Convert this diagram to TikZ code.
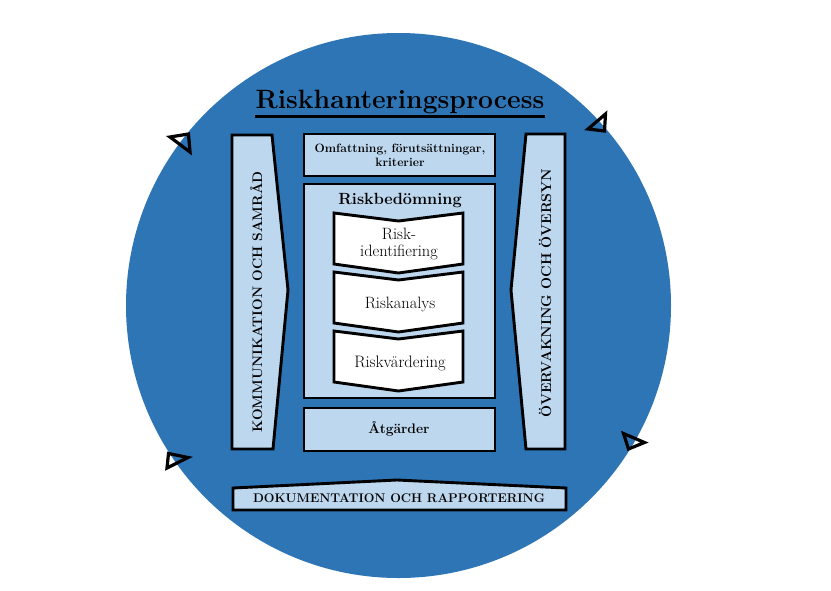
\documentclass[tikz,border=0pt]{standalone}
\usepackage{fontspec}
\definecolor{circblue}{HTML}{2E75B6}
\definecolor{lightblue}{HTML}{BDD7EE}
\tikzset{
  box/.style={draw=black, line width=2.9pt, fill=lightblue, line join=miter},
  chevbox/.style={draw=black, line width=2.9pt, fill=white, line join=miter},
  tri/.style={draw=black, line width=3.2pt, line join=miter},
  lbl/.style={inner sep=0pt, align=center, text=black}
}
\begin{document}
\begin{tikzpicture}[x=1pt,y=-1pt]
\useasboundingbox (0,0) rectangle (831,590);
% background circle
\fill[circblue] (398.5,305.5) circle (272.5);

% title
\node[lbl, anchor=base, font=\fontsize{26.5}{30}\selectfont\bfseries] (title) at (400,108) {Riskhanteringsprocess};
\draw[line width=3pt] ([yshift=-8pt]title.base west) -- ([yshift=-8pt]title.base east);

% left column
\draw[box] (232,135) -- (272,135) -- (288,290) -- (273,449) -- (232,449) -- cycle;
\node[lbl, rotate=90, anchor=base, font=\fontsize{13.8}{16}\selectfont\bfseries] (komm) at (262,302) {KOMMUNIKATION OCH SAMRÅD};

% right column
\draw[box] (526,134) -- (565,134) -- (565,449) -- (526,449) -- (511,290) -- cycle;
\node[lbl, rotate=90, anchor=base, font=\fontsize{14.2}{16}\selectfont\bfseries] (overv) at (551,293) {ÖVERVAKNING OCH ÖVERSYN};

% top box
\draw[box] (304,134) rectangle (495,176);
\node[lbl, font=\fontsize{12.1}{13.5}\selectfont\bfseries] (omf) at (400,155.4) {Omfattning, förutsättningar,\\kriterier};

% risk assessment box
\draw[box] (304,184) rectangle (495,398);
\node[lbl, anchor=base, font=\fontsize{16.2}{18}\selectfont\bfseries] (rb) at (400,204) {Riskbedömning};

% chevrons
\draw[chevbox] (334,213) -- (398.5,221) -- (463,213) -- (463,264) -- (398.5,273) -- (334,264) -- cycle;
\node[lbl, font=\fontsize{16.4}{17}\selectfont] (rid) at (399,243.7) {Risk-\\identifiering};

\draw[chevbox] (334,272) -- (398.5,280) -- (463,272) -- (463,323) -- (398.5,332) -- (334,323) -- cycle;
\node[lbl, anchor=base, font=\fontsize{16.4}{18}\selectfont] (ra) at (400,308) {Riskanalys};

\draw[chevbox] (334,331) -- (398.5,339) -- (463,331) -- (463,382) -- (398.5,391) -- (334,382) -- cycle;
\node[lbl, anchor=base, font=\fontsize{16.6}{18}\selectfont] (rv) at (400,367.5) {Riskvärdering};

% actions box
\draw[box] (304,408) rectangle (495,451);
\node[lbl, font=\fontsize{13.8}{16}\selectfont\bfseries] (atg) at (399,429) {Åtgärder};

% bottom documentation bar
\draw[box] (233,488) -- (397,480) -- (566,488) -- (566,510) -- (233,510) -- cycle;
\node[lbl, anchor=base, font=\fontsize{12.6}{14}\selectfont\bfseries] (dok) at (399,502) {DOKUMENTATION OCH RAPPORTERING};

% open arrowheads around the circle
\draw[tri] (170,137) -- (188.5,134) -- (190,152) -- cycle;
\draw[tri] (588,129) -- (605.5,114) -- (604.5,131) -- cycle;
\draw[tri] (623.5,433.5) -- (644.5,442.5) -- (628.5,449) -- cycle;
\draw[tri] (168.5,453.5) -- (188,457.5) -- (167,468) -- cycle;
\end{tikzpicture}
\end{document}
